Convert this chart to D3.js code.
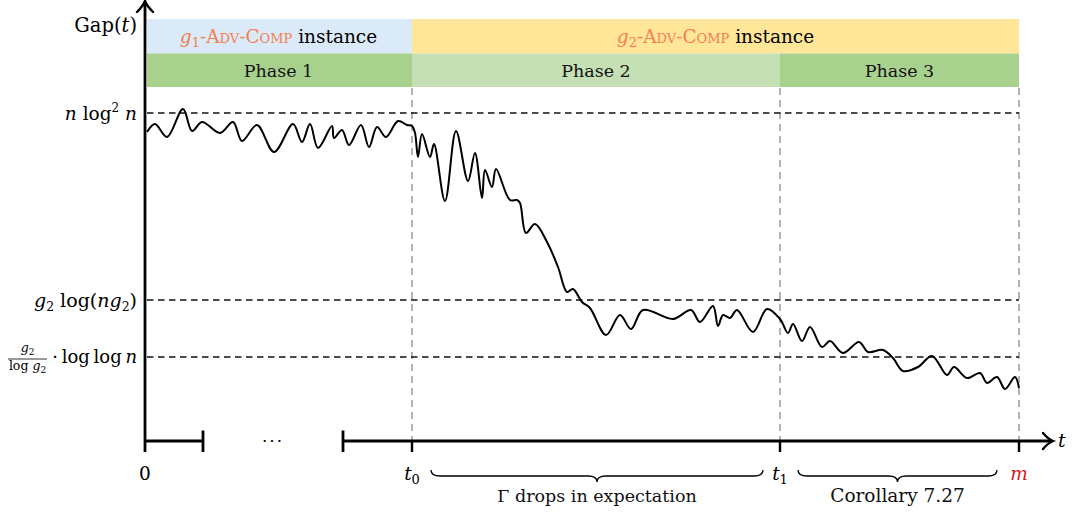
<!DOCTYPE html>
<html>
<head>
<meta charset="utf-8">
<script src="https://cdn.jsdelivr.net/npm/d3@7/dist/d3.min.js"></script>
<style>
  html, body { margin: 0; padding: 0; background: #fff; }
  svg { display: block; font-family: "DejaVu Serif", serif; }
</style>
</head>
<body>
<svg id="chart" width="1073" height="515"></svg>
<script>
// Gap(t) trajectory, sampled as [t, gap] pairs for each phase
const phase1Gap = [[2,309],[10,317],[22,304],[38,332],[47,310],[57,319],[75,308],[88,319],[97,300],[112,316],[129,289],[148,317],[157,299],[165,317],[173,293],[187,315],[189,303],[197,311],[204,296],[216,316],[224,294],[232,314],[241,304],[253,320],[262,316],[267,315]];
const phase2Gap = [[270,308],[273,284],[277,307],[285,284],[289,297],[300,240],[311,310],[323,260],[330,288],[337,243],[340,271],[347,254],[351,272],[365,241],[372,241],[375,238],[381,208],[390,217],[402,199],[413,174],[422,149],[428,152],[437,139],[445,133],[461,106],[475,126],[486,112],[498,131],[528,122],[546,131],[555,119],[568,135],[573,115],[578,126],[585,123],[592,131],[608,109],[622,132],[635,122]];
const phase3Gap = [[643,108],[648,117],[657,100],[665,114],[677,94],[685,100],[698,88],[714,99],[723,89],[738,91],[748,83],[758,70],[773,74],[787,85],[802,66],[809,74],[822,63],[835,68],[842,58],[852,64],[860,52],[870,64],[874,53]];

// Reference levels on the Gap axis
const levelNames = ["nlog2n", "g2log", "loglog"];
const levelValues = [328, 141, 84];

// Time marks on the t axis
const timeNames = ["t0", "t1", "m"];
const timeValues = [267, 635, 874];
const breakStart = 58, breakEnd = 198;

// Header bands
const instanceBands = [
  { from: 0, to: 267, color: "#dbeaf8", g: "1" },
  { from: 267, to: 874, color: "#ffe699", g: "2" }
];
const phaseBands = [
  { from: 0, to: 267, color: "#a9d18e", label: "Phase 1" },
  { from: 267, to: 635, color: "#c5e0b4", label: "Phase 2" },
  { from: 635, to: 874, color: "#a9d18e", label: "Phase 3" }
];

const orange = "#f47f4f";
const svg = d3.select("#chart");
const x = d3.scaleLinear().domain([0, 874]).range([145, 1019]);
const y = d3.scaleLinear().domain([0, 340]).range([441, 101]);
const x0 = x(0), y0 = y(0);

// ---- header bands ----
svg.selectAll("rect.inst").data(instanceBands).join("rect")
  .attr("x", d => x(d.from) + (d.from === 0 ? 2 : 0)).attr("y", 19)
  .attr("width", d => x(d.to) - x(d.from) - (d.from === 0 ? 2 : 0)).attr("height", 34.5)
  .attr("fill", d => d.color);
svg.selectAll("rect.phase").data(phaseBands).join("rect")
  .attr("x", d => x(d.from) + (d.from === 0 ? 2 : 0)).attr("y", 53.5)
  .attr("width", d => x(d.to) - x(d.from) - (d.from === 0 ? 2 : 0)).attr("height", 33.5)
  .attr("fill", d => d.color);

instanceBands.forEach(d => {
  const t = svg.append("text").attr("x", (x(d.from) + x(d.to)) / 2).attr("y", 43)
    .attr("text-anchor", "middle").attr("font-size", 18.5);
  t.append("tspan").attr("fill", orange).attr("font-style", "italic").text("g");
  t.append("tspan").attr("fill", orange).attr("font-size", 13).attr("dy", 4).text(d.g);
  t.append("tspan").attr("fill", orange).attr("dy", -4).style("font-variant", "small-caps").text("-Adv-Comp");
  t.append("tspan").attr("fill", "#000").text(" instance");
});
svg.selectAll("text.phase").data(phaseBands).join("text")
  .attr("x", d => (x(d.from) + x(d.to)) / 2).attr("y", 77)
  .attr("text-anchor", "middle").attr("font-size", 17.5).attr("fill", "#111")
  .text(d => d.label);

// ---- vertical grey guides ----
svg.selectAll("line.vguide").data(timeValues).join("line")
  .attr("x1", d => x(d)).attr("x2", d => x(d))
  .attr("y1", 88).attr("y2", y0)
  .attr("stroke", "#b3b3b3").attr("stroke-width", 2).attr("stroke-dasharray", "7,5");

// ---- horizontal reference levels ----
svg.selectAll("line.level").data(levelValues).join("line")
  .attr("x1", x0 + 2).attr("x2", x(874))
  .attr("y1", d => y(d)).attr("y2", d => y(d))
  .attr("stroke", "#111").attr("stroke-width", 1.5).attr("stroke-dasharray", "6.5,4.5");

// ---- the Gap curve ----
const gapData = phase1Gap.concat(phase2Gap, phase3Gap);
svg.append("path").datum(gapData)
  .attr("d", d3.line().x(d => x(d[0])).y(d => y(d[1])).curve(d3.curveCatmullRom.alpha(0.5)))
  .attr("fill", "none").attr("stroke", "#000").attr("stroke-width", 2).attr("stroke-linejoin", "round");

// ---- axes ----
const axisW = 2.8;
// vertical Gap axis with arrow tip
svg.append("line").attr("x1", x0).attr("x2", x0).attr("y1", y0 + 11).attr("y2", 2)
  .attr("stroke", "#000").attr("stroke-width", axisW);
svg.append("path").attr("d", `M${x0 - 8},${12} Q${x0 - 2},${6} ${x0},${1} Q${x0 + 2},${6} ${x0 + 8},${12}`)
  .attr("fill", "none").attr("stroke", "#000").attr("stroke-width", 2.4).attr("stroke-linecap", "round");

// horizontal t axis, broken between the two bracket ticks
svg.append("line").attr("x1", x0).attr("x2", x(breakStart)).attr("y1", y0).attr("y2", y0)
  .attr("stroke", "#000").attr("stroke-width", axisW);
svg.append("line").attr("x1", x(breakEnd)).attr("x2", 1051).attr("y1", y0).attr("y2", y0)
  .attr("stroke", "#000").attr("stroke-width", axisW);
svg.selectAll("line.brk").data([breakStart, breakEnd]).join("line")
  .attr("x1", d => x(d)).attr("x2", d => x(d)).attr("y1", y0 - 10.5).attr("y2", y0 + 11)
  .attr("stroke", "#000").attr("stroke-width", axisW);
svg.append("path").attr("d", `M${1043},${y0 - 8} Q${1048},${y0 - 2} ${1053},${y0} Q${1048},${y0 + 2} ${1043},${y0 + 8}`)
  .attr("fill", "none").attr("stroke", "#000").attr("stroke-width", 2.4).attr("stroke-linecap", "round");
svg.selectAll("line.tick").data(timeValues).join("line")
  .attr("x1", d => x(d)).attr("x2", d => x(d)).attr("y1", y0).attr("y2", y0 + 11)
  .attr("stroke", "#000").attr("stroke-width", 2.4);

svg.append("text").attr("x", (x(breakStart) + x(breakEnd)) / 2).attr("y", y0 + 6)
  .attr("text-anchor", "middle").attr("font-size", 17).attr("letter-spacing", 2).text("\u00b7\u00b7\u00b7");

// axis titles
const gapTitle = svg.append("text").attr("x", 137).attr("y", 32).attr("text-anchor", "end").attr("font-size", 19.5);
gapTitle.append("tspan").text("Gap(");
gapTitle.append("tspan").attr("font-style", "italic").text("t");
gapTitle.append("tspan").text(")");
svg.append("text").attr("x", 1058).attr("y", y0 + 6).attr("font-size", 19).attr("font-style", "italic").text("t");

// t-axis labels
svg.append("text").attr("x", x0).attr("y", 480).attr("text-anchor", "middle").attr("font-size", 18.5).text("0");
const tLabels = [
  { v: timeValues[0], main: "t", sub: "0", color: "#000" },
  { v: timeValues[1], main: "t", sub: "1", color: "#000" },
  { v: timeValues[2], main: "m", sub: "", color: "#d7191c" }
];
tLabels.forEach(d => {
  const t = svg.append("text").attr("x", x(d.v)).attr("y", 480).attr("text-anchor", "middle")
    .attr("font-size", 18.5).attr("fill", d.color);
  t.append("tspan").attr("font-style", "italic").text(d.main);
  if (d.sub) t.append("tspan").attr("font-size", 13).attr("dy", 4).text(d.sub);
});

// underbraces
function brace(xa, xb, yt, h) {
  const m = (xa + xb) / 2, q = h / 2, r = 9;
  return `M${xa},${yt} Q${xa},${yt + q} ${xa + r},${yt + q} L${m - r},${yt + q} Q${m},${yt + q} ${m},${yt + h}` +
         ` Q${m},${yt + q} ${m + r},${yt + q} L${xb - r},${yt + q} Q${xb},${yt + q} ${xb},${yt}`;
}
const braces = [
  { a: x(timeValues[0]) + 19, b: x(timeValues[1]) - 17, label: "\u0393 drops in expectation", size: 17.5 },
  { a: x(timeValues[1]) + 18, b: x(timeValues[2]) - 22, label: "Corollary 7.27", size: 18.5 }
];
braces.forEach(d => {
  svg.append("path").attr("d", brace(d.a, d.b, 470, 12))
    .attr("fill", "none").attr("stroke", "#000").attr("stroke-width", 1.3);
  svg.append("text").attr("x", (d.a + d.b) / 2).attr("y", 502).attr("text-anchor", "middle")
    .attr("font-size", d.size).attr("fill", "#111").text(d.label);
});

// ---- level labels ----
const lab1 = svg.append("text").attr("x", 137).attr("y", y(levelValues[0]) + 7).attr("text-anchor", "end").attr("font-size", 18.5);
lab1.append("tspan").attr("font-style", "italic").text("n");
lab1.append("tspan").text(" log");
lab1.append("tspan").attr("font-size", 12).attr("dy", -8).text("2");
lab1.append("tspan").attr("dy", 8).attr("font-style", "italic").text(" n");

const lab2 = svg.append("text").attr("x", 137).attr("y", y(levelValues[1]) + 7).attr("text-anchor", "end").attr("font-size", 19);
lab2.append("tspan").attr("font-style", "italic").text("g");
lab2.append("tspan").attr("font-size", 12.5).attr("dy", 4).text("2");
lab2.append("tspan").attr("dy", -4).text(" log(");
lab2.append("tspan").attr("font-style", "italic").text("ng");
lab2.append("tspan").attr("font-size", 12.5).attr("dy", 4).text("2");
lab2.append("tspan").attr("dy", -4).text(")");

const ly = y(levelValues[2]);
const lab3 = svg.append("text").attr("x", 137).attr("y", ly + 6).attr("text-anchor", "end")
  .attr("font-size", 18).attr("word-spacing", -2);
lab3.append("tspan").text("log log ");
lab3.append("tspan").attr("font-style", "italic").text("n");
svg.append("text").attr("x", 55).attr("y", ly + 6).attr("text-anchor", "middle").attr("font-size", 18).text("\u00b7");
// small fraction g2 / log g2
const fx = 27.5;
const num = svg.append("text").attr("x", fx).attr("y", ly - 5).attr("text-anchor", "middle").attr("font-size", 12.5);
num.append("tspan").attr("font-style", "italic").text("g");
num.append("tspan").attr("font-size", 9).attr("dy", 2.5).text("2");
svg.append("line").attr("x1", 8).attr("x2", 47).attr("y1", ly + 2).attr("y2", ly + 2)
  .attr("stroke", "#000").attr("stroke-width", 0.8);
const den = svg.append("text").attr("x", fx).attr("y", ly + 13).attr("text-anchor", "middle").attr("font-size", 12.5);
den.append("tspan").text("log ");
den.append("tspan").attr("font-style", "italic").text("g");
den.append("tspan").attr("font-size", 9).attr("dy", 2.5).text("2");
</script>
</body>
</html>
